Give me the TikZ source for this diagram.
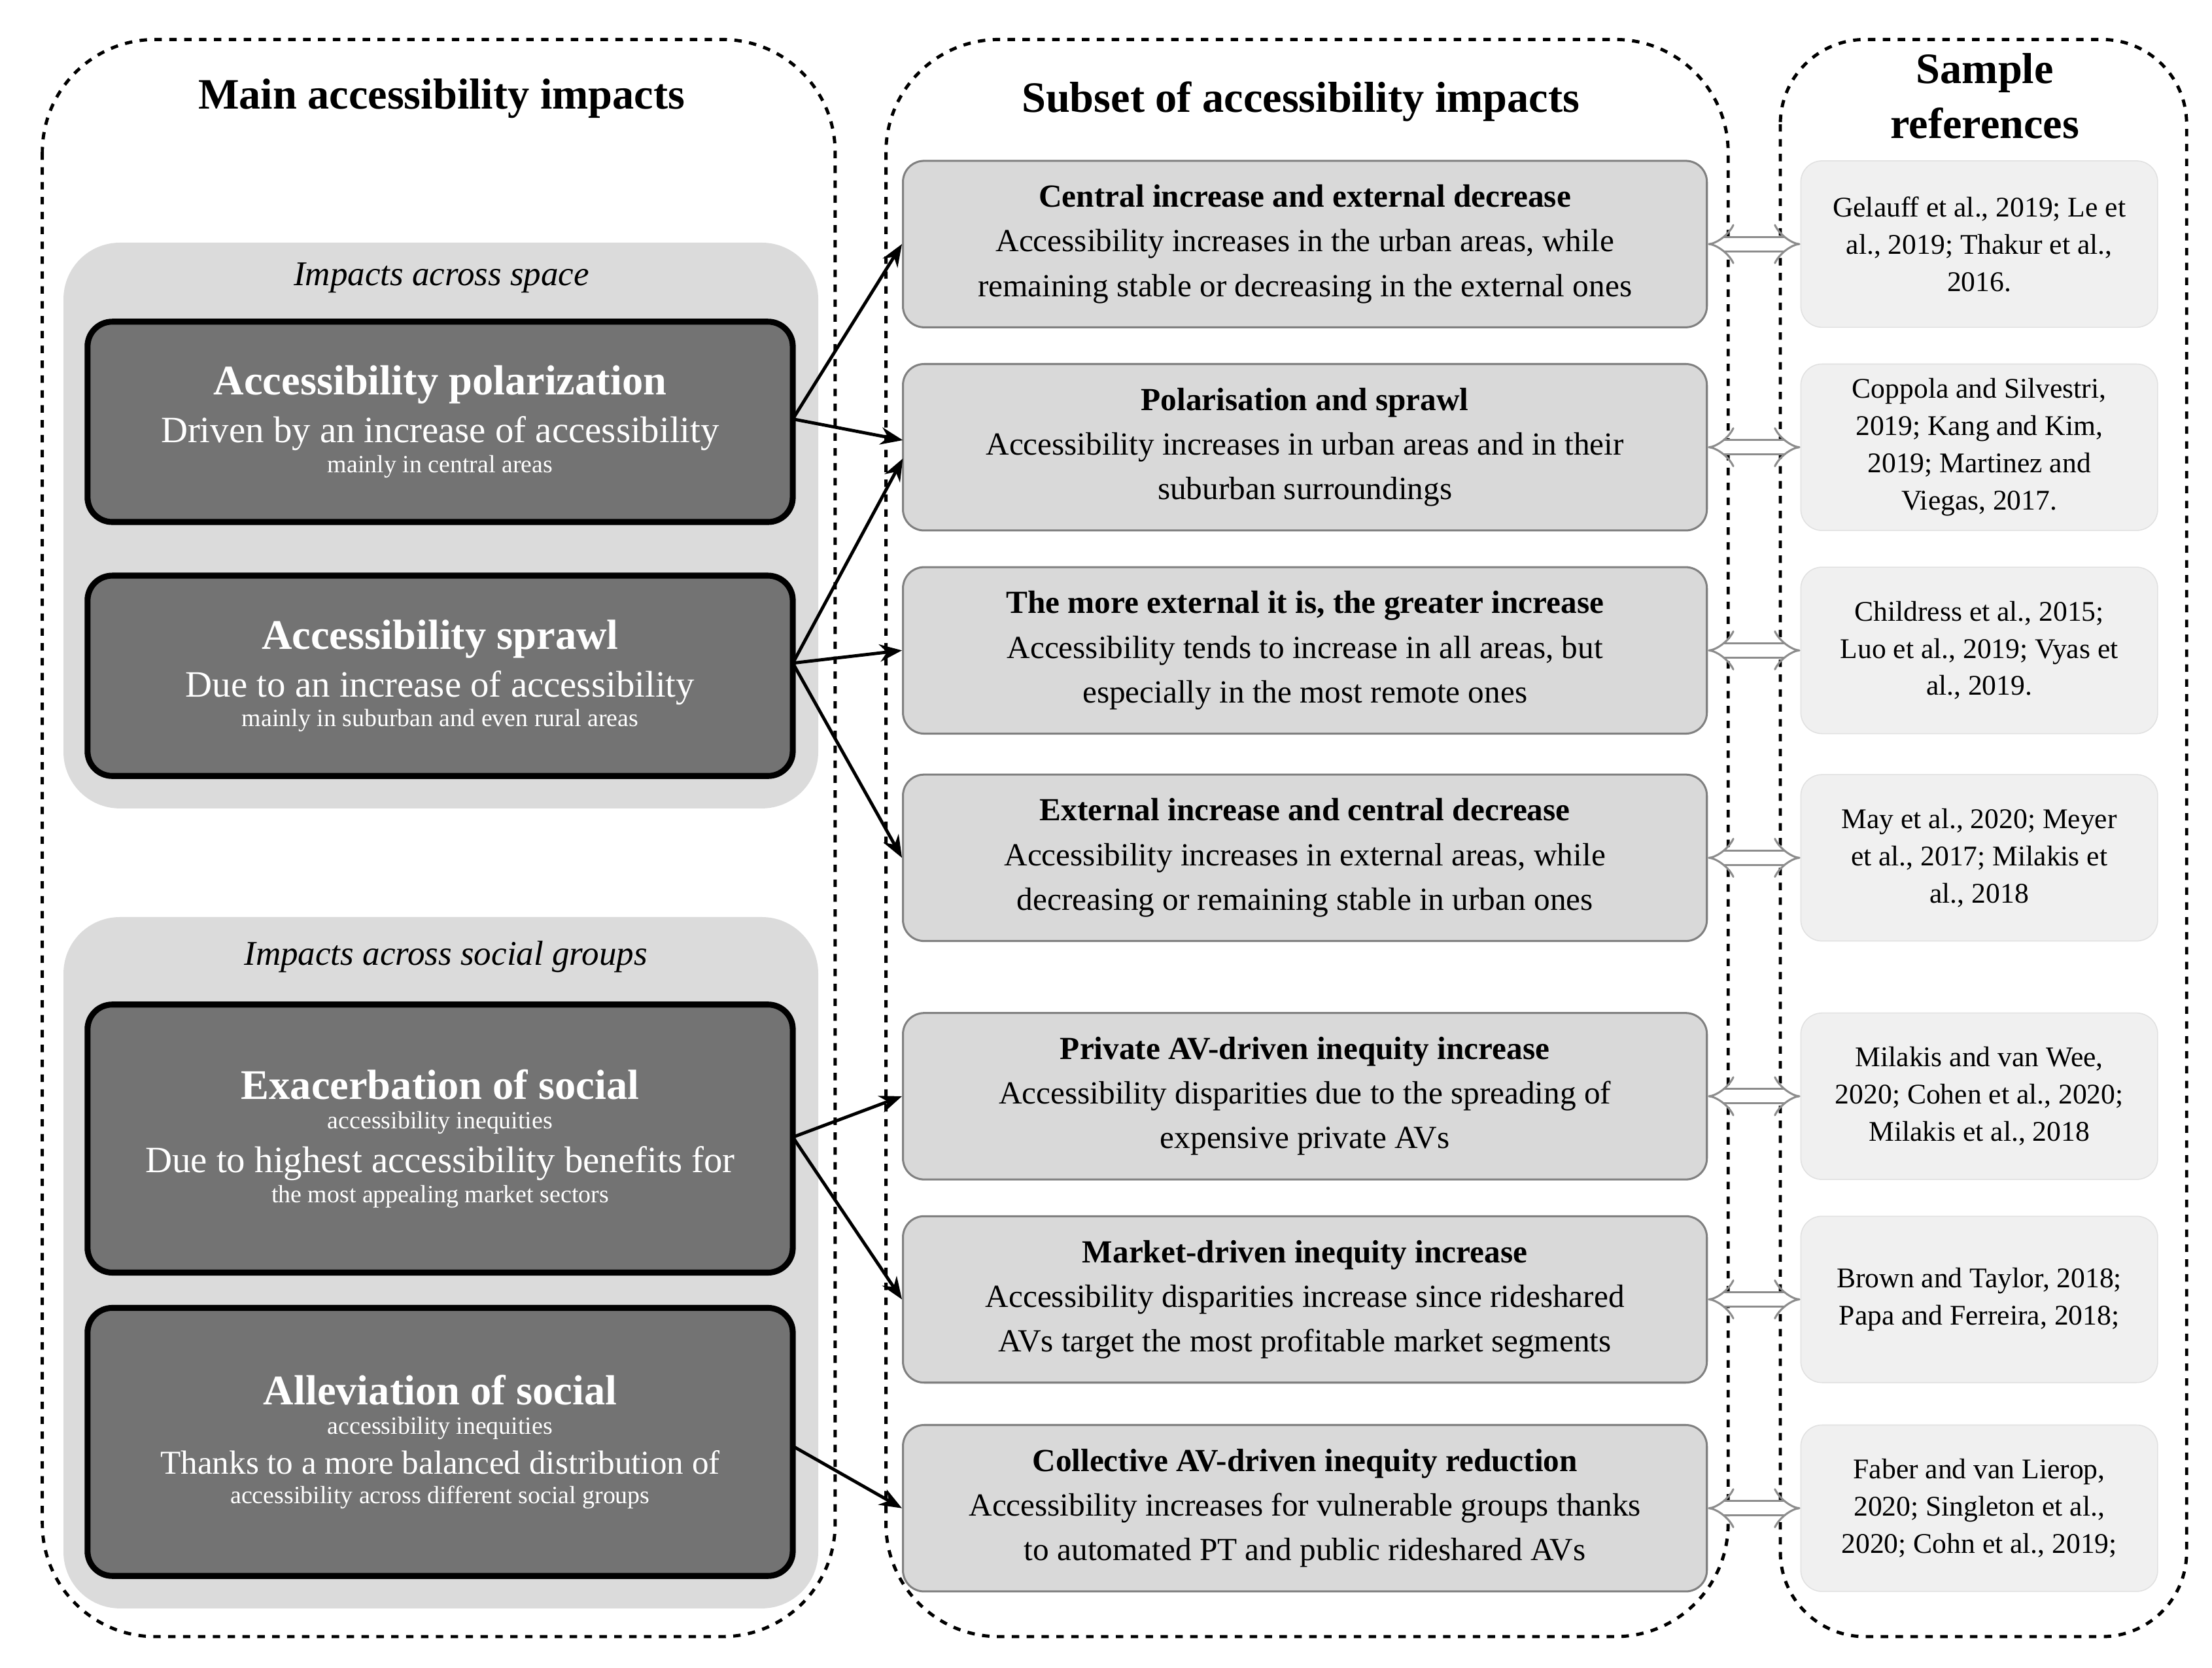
\documentclass[tikz,border=0pt]{standalone}
\usepackage{fontspec}
\setmainfont{Liberation Serif}
\usetikzlibrary{arrows.meta}
\newcommand{\hdfont}{\fontsize{17}{21}\selectfont\bfseries}
\newcommand{\bdfont}{\fontsize{15}{17}\selectfont\mdseries}
\newcommand{\bdsmall}{\fontsize{13.5}{16}\selectfont\mdseries}
\begin{document}
\begin{tikzpicture}[x=0.02cm,y=-0.02cm,
 dashbox/.style={draw,dashed,line width=1.3pt,rounded corners=1.6cm},
 grp/.style={fill=black!14,draw=none,rounded corners=0.8cm},
 dark/.style={draw,line width=2.4pt,fill=black!55,text=white,rounded corners=0.35cm,minimum width=10cm,align=center,inner sep=2pt},
 mid/.style={draw=black!50,line width=0.8pt,fill=black!15,rounded corners=0.3cm,minimum width=11.4cm,minimum height=2.36cm,align=center,font=\fontsize{13}{18}\selectfont,inner sep=1pt},
 ref/.style={draw=black!12,fill=black!6,rounded corners=0.3cm,minimum width=5.06cm,minimum height=2.36cm,align=center,font=\fontsize{11.5}{15}\selectfont,inner sep=1pt},
 conn/.style={-{Stealth[length=9pt,width=7pt]},line width=1.3pt},
 dbl/.style={draw=black!45,double=white,double distance=5pt,line width=0.8pt,{Implies}-{Implies}},
 ttl/.style={font=\fontsize{17.5}{22}\selectfont\bfseries,align=center},
 ital/.style={font=\fontsize{14}{17}\selectfont\itshape}]
\useasboundingbox (0,0) rectangle (1568,1182);
\draw[dashbox] (30,28) rectangle (592,1160);
\draw[dashbox] (628,28) rectangle (1225,1160);
\draw[dashbox,rounded corners=1.2cm] (1262,28) rectangle (1550,1160);
\node[ttl] (t1) at (313,70) {Main accessibility impacts};
\node[ttl] (t2) at (922,72) {Subset of accessibility impacts};
\node[ttl] (t3) at (1407,68) {Sample\\references};
\fill[grp] (45,172) rectangle (580,573);
\fill[grp] (45,650) rectangle (580,1140);
\node[ital] (g1) at (313,197) {Impacts across space};
\node[ital] (g2) at (316,678) {Impacts across social groups};
\node[dark,minimum height=2.84cm] (d1) at (312,299) {\hdfont Accessibility polarization\\[4pt]\bdfont Driven by an increase of accessibility\\mainly in central areas};
\node[dark,minimum height=2.84cm] (d2) at (312,479) {\hdfont Accessibility sprawl\\[4pt]\bdfont Due to an increase of accessibility\\mainly in suburban and even rural areas};
\node[dark,minimum height=3.8cm] (d3) at (312,807) {\hdfont Exacerbation of social\\accessibility inequities\\[4pt]\bdfont Due to highest accessibility benefits for\\the most appealing market sectors};
\node[dark,minimum height=3.8cm] (d4) at (312,1022) {\hdfont Alleviation of social\\accessibility inequities\\[4pt]\bdsmall Thanks to a more balanced distribution of\\accessibility across different social groups};
\node[mid] (m1) at (925,173) {\textbf{Central increase and external decrease}\\Accessibility increases in the urban areas, while\\remaining stable or decreasing in the external ones};
\node[mid] (m2) at (925,317) {\textbf{Polarisation and sprawl}\\Accessibility increases in urban areas and in their\\suburban surroundings};
\node[mid] (m3) at (925,461) {\textbf{The more external it is, the greater increase}\\Accessibility tends to increase in all areas, but\\especially in the most remote ones};
\node[mid] (m4) at (925,608) {\textbf{External increase and central decrease}\\Accessibility increases in external areas, while\\decreasing or remaining stable in urban ones};
\node[mid] (m5) at (925,777) {\textbf{Private AV-driven inequity increase}\\Accessibility disparities due to the spreading of\\expensive private AVs};
\node[mid] (m6) at (925,921) {\textbf{Market-driven inequity increase}\\Accessibility disparities increase since rideshared\\AVs target the most profitable market segments};
\node[mid] (m7) at (925,1069) {\textbf{Collective AV-driven inequity reduction}\\Accessibility increases for vulnerable groups thanks\\to automated PT and public rideshared AVs};
\node[ref] (r1) at (1403,173) {Gelauff et al., 2019; Le et\\al., 2019; Thakur et al.,\\2016.};
\node[ref] (r2) at (1403,317) {Coppola and Silvestri,\\2019; Kang and Kim,\\2019; Martinez and\\Viegas, 2017.};
\node[ref] (r3) at (1403,461) {Childress et al., 2015;\\Luo et al., 2019; Vyas et\\al., 2019.};
\node[ref] (r4) at (1403,608) {May et al., 2020; Meyer\\et al., 2017; Milakis et\\al., 2018};
\node[ref] (r5) at (1403,777) {Milakis and van Wee,\\2020; Cohen et al., 2020;\\Milakis et al., 2018};
\node[ref] (r6) at (1403,921) {Brown and Taylor, 2018;\\Papa and Ferreira, 2018;};
\node[ref] (r7) at (1403,1069) {Faber and van Lierop,\\2020; Singleton et al.,\\2020; Cohn et al., 2019;};
\foreach \i in {1,...,7}{\draw[dbl] (m\i.east) -- (r\i.west);}
\coordinate (o1) at (562,297);
\coordinate (o2) at (562,470);
\coordinate (o3) at (562,806);
\coordinate (o4) at (562,1025);
\draw[conn] (o1) -- (m1.west);
\draw[conn] (o1) -- (640,312);
\draw[conn] (o2) -- (640,325);
\draw[conn] (o2) -- (m3.west);
\draw[conn] (o2) -- (m4.west);
\draw[conn] (o3) -- (m5.west);
\draw[conn] (o3) -- (m6.west);
\draw[conn] (o4) -- (m7.west);
\end{tikzpicture}
\end{document}
